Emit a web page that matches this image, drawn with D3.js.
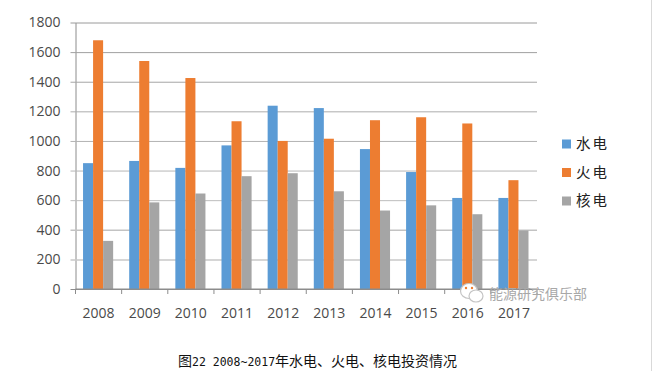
<!DOCTYPE html>
<html>
<head>
<meta charset="utf-8">
<script src="https://cdnjs.cloudflare.com/ajax/libs/d3/7.8.5/d3.min.js"></script>
<style>
    html, body { margin: 0; padding: 0; background: #fff; }
    svg { display: block; }
    text { font-family: "Open Sans", "Noto Sans CJK SC", sans-serif; }
    .axis text { font-size: 14px; fill: #4a4a4a; }
    .legend text { font-family: "Noto Sans CJK SC"; font-size: 14.5px; fill: #222; letter-spacing: 2px; }
</style>
</head>
<body>
<div id="chart"></div>
<script>
var years = ['2008', '2009', '2010', '2011', '2012', '2013', '2014', '2015', '2016', '2017'];
var seriesNames = ['水电', '火电', '核电'];
var hydro = [850, 865, 818, 970, 1238, 1222, 945, 790, 615, 615];
var thermal = [1680, 1540, 1425, 1133, 1000, 1015, 1140, 1160, 1118, 735];
var nuclear = [325, 585, 645, 762, 782, 660, 530, 565, 505, 395];
var yTicks = [0, 200, 400, 600, 800, 1000, 1200, 1400, 1600, 1800];
var colors = ['#5b9bd5', '#ed7d31', '#a5a5a5'];
var captionHead = '图';
var captionDigits = '22 2008~2017';
var captionTail = '年水电、火电、核电投资情况';
var watermark = '能源研究俱乐部';

var width = 669, height = 371;
var margin = {left: 75.5, right: 132, top: 22.5, bottom: 82};

var svg = d3.select('#chart').append('svg')
    .attr('width', width)
    .attr('height', height);

var x = d3.scaleBand()
    .domain(years)
    .range([margin.left, width - margin.right]);

var xInner = d3.scaleBand()
    .domain(seriesNames)
    .range([0, x.bandwidth()])
    .paddingInner(0)
    .paddingOuter(0.8)
    .align(0.47);

var y = d3.scaleLinear()
    .domain([0, 1800])
    .range([height - margin.bottom, margin.top]);

// gridlines, the scan makes the lower ones paler
var gridColor = d3.scaleLinear().domain([0, 1800]).range(['#cfcfcf', '#9a9a9a']);

var yAxis = d3.axisLeft(y)
    .tickValues(yTicks)
    .tickFormat(d3.format('d'))
    .tickSize(0)
    .tickPadding(15);
var gy = svg.append('g')
    .attr('class', 'axis')
    .attr('transform', `translate(${margin.left},0)`)
    .call(yAxis);
gy.select('.domain').attr('stroke', '#8c8c8c');
gy.selectAll('.tick line')
    .attr('x1', -5)
    .attr('x2', width - margin.right - margin.left)
    .attr('stroke', function(d){ return d == 0 ? '#8c8c8c' : gridColor(d); })
    .attr('stroke-width', function(d){ return d == 200 || d == 400 ? 1.5 : 1; });

var rows = [hydro, thermal, nuclear];
seriesNames.forEach(function(name, s){
    svg.append('g')
        .selectAll('rect')
        .data(rows[s])
        .join('rect')
        .attr('x', function(d, i){ return x(years[i]) + xInner(name); })
        .attr('y', function(d){ return y(d); })
        .attr('width', xInner.bandwidth())
        .attr('height', function(d){ return y(0) - y(d); })
        .attr('fill', colors[s]);
});

// ticks sit on the band edges, so drawn by hand from the band scale
var xAxisG = svg.append('g')
    .attr('class', 'axis')
    .attr('transform', `translate(0,${y(0)})`);
xAxisG.append('line')
    .attr('x1', margin.left)
    .attr('x2', width - margin.right)
    .attr('stroke', '#8c8c8c');
xAxisG.selectAll('line.edge')
    .data(years.concat(['end']))
    .join('line')
    .attr('class', 'edge')
    .attr('x1', function(d){ return d == 'end' ? x.range()[1] : x(d); })
    .attr('x2', function(d){ return d == 'end' ? x.range()[1] : x(d); })
    .attr('y2', 5)
    .attr('stroke', '#8c8c8c');
xAxisG.selectAll('text')
    .data(years)
    .join('text')
    .attr('x', function(d){ return x(d) + x.bandwidth() / 2; })
    .attr('y', 29)
    .attr('text-anchor', 'middle')
    .text(function(d){ return d; });

var legendY = d3.scalePoint().domain(seriesNames).range([144, 201]);
var legend = svg.append('g').attr('class', 'legend');
seriesNames.forEach(function(name, s){
    legend.append('rect')
        .attr('x', 562)
        .attr('y', legendY(name) - 4.5)
        .attr('width', 9)
        .attr('height', 9)
        .attr('fill', colors[s]);
    legend.append('text')
        .attr('x', 576)
        .attr('y', legendY(name))
        .attr('dy', '0.35em')
        .text(name);
});

// caption digits are a narrow monospace in the original
var cap = svg.append('text')
    .attr('x', 178)
    .attr('y', 366)
    .attr('fill', '#111')
    .style('font-family', '"Noto Sans CJK SC"')
    .attr('font-size', 14);
cap.append('tspan').text(captionHead);
cap.append('tspan')
    .attr('font-size', 11.5)
    .style('font-family', '"DejaVu Sans Mono"')
    .style('white-space', 'pre')
    .attr('xml:space', 'preserve')
    .text(captionDigits);
cap.append('tspan').text(captionTail);

// watermark
var mark = svg.append('g').attr('fill', '#fff').attr('stroke', '#c4c4c4').attr('stroke-width', 1.2);
mark.append('ellipse').attr('cx', 469).attr('cy', 291).attr('rx', 8.5).attr('ry', 7.5);
mark.append('ellipse').attr('cx', 476).attr('cy', 296).attr('rx', 7).attr('ry', 6);
svg.append('circle').attr('cx', 466).attr('cy', 288).attr('r', 1.2).attr('fill', '#ed7d31');
svg.append('circle').attr('cx', 472).attr('cy', 288).attr('r', 1.2).attr('fill', '#ed7d31');
svg.append('text')
    .attr('x', 489)
    .attr('y', 299)
    .attr('font-size', 14)
    .attr('fill', '#a8a8a8')
    .style('font-family', '"Noto Sans CJK SC"')
    .text(watermark);

// page edge from the screenshot
svg.append('line')
    .attr('x1', 651.5).attr('x2', 651.5)
    .attr('y1', 0).attr('y2', height)
    .attr('stroke', '#d9d9d9')
    .attr('stroke-width', 1);
</script>
</body>
</html>
